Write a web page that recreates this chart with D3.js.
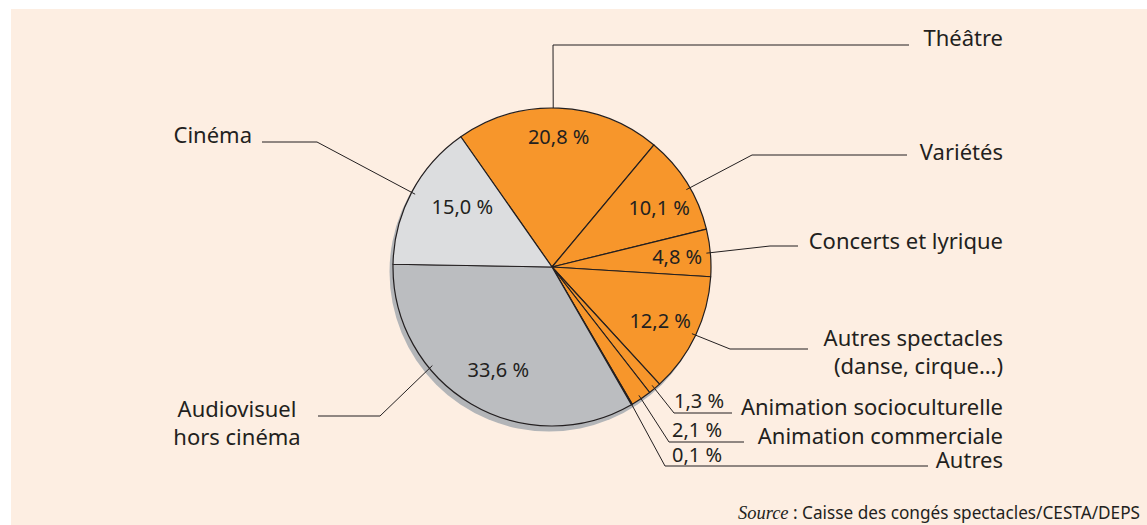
<!DOCTYPE html>
<html>
<head>
<meta charset="utf-8">
<script src="https://cdn.jsdelivr.net/npm/d3@7"></script>
<style>
  body { margin: 0; background: #fff; }
  svg text { font-family: "Noto Sans", sans-serif; fill: #231f20; }
</style>
</head>
<body>
<svg id="chart" width="1147" height="525"></svg>
<script>
// data (share of employment, %)
var categories = ["Théâtre", "Variétés", "Concerts et lyrique", "Autres spectacles (danse, cirque…)",
                  "Animation socioculturelle", "Animation commerciale", "Autres",
                  "Audiovisuel hors cinéma", "Cinéma"];
var shares = [20.8, 10.1, 4.8, 12.2, 1.3, 2.1, 0.1, 33.6, 15.0];
var groups = ["spectacle", "spectacle", "spectacle", "spectacle", "spectacle", "spectacle", "spectacle",
              "audiovisuel", "cinema"];
var labelLines = [["Théâtre"], ["Variétés"], ["Concerts et lyrique"], ["Autres spectacles", "(danse, cirque…)"],
                  ["Animation socioculturelle"], ["Animation commerciale"], ["Autres"],
                  ["Audiovisuel", "hors cinéma"], ["Cinéma"]];
var sourceText = "Caisse des congés spectacles/CESTA/DEPS";

var svg = d3.select("svg#chart"),
    width = +svg.attr("width"),
    height = +svg.attr("height");

var cx = 552, cy = 267, radius = 159;

var color = d3.scaleOrdinal()
    .domain(["spectacle", "audiovisuel", "cinema"])
    .range(["#f7962b", "#bbbdc0", "#dcdddf"]);

var fmt = function(v) { return d3.format(".1f")(v).replace(".", ",") + " %"; };

// label placement (leader elbow, end of horizontal, text spot)
// aOff: shift of the leader start from slice mid angle, degrees
// pOff/pr: angle shift and radius factor of the % label inside the slice
var layout = [
  {aOff: -2,  elbow: [553, 45],  endX: 909, tx: 1003, ty: 46,  anchor: "end", pOff: 0.5, pr: 0.82},
  {aOff: 2,   elbow: [752, 155], endX: 907, tx: 1003, ty: 160, anchor: "end", pOff: 3,   pr: 0.77},
  {aOff: 0,   elbow: [770, 246], endX: 798, tx: 1003, ty: 249, anchor: "end", pOff: 0.5, pr: 0.79},
  {aOff: 0,   elbow: [730, 349], endX: 808, tx: 1003, ty: 346, anchor: "end", pOff: 1,   pr: 0.76},
  {aOff: 0,   elbow: [674, 413], endX: 732, tx: 1003, ty: 415, anchor: "end", pout: [674, 408]},
  {aOff: 0,   elbow: [669, 442], endX: 744, tx: 1003, ty: 444, anchor: "end", pout: [672, 437]},
  {aOff: 0,   elbow: [665, 466], endX: 928, tx: 1003, ty: 468, anchor: "end", pout: [672, 462]},
  {aOff: 20,  elbow: [380, 416], endX: 318, tx: 237,  ty: 417, anchor: "middle", pOff: -3, pr: 0.73},
  {aOff: 0,   elbow: [317, 142], endX: 262, tx: 252,  ty: 143, anchor: "end", pOff: 6,  pr: 0.68}
];

svg.append("rect")
    .attr("x", 11).attr("y", 9)
    .attr("width", width - 11).attr("height", height - 9)
    .attr("fill", "#fdeee2");

var pie = d3.pie()
    .sort(null)
    .value(function(d) { return d; })
    .startAngle(-35 * Math.PI / 180)
    .endAngle(325 * Math.PI / 180);

var arcs = pie(shares);

var arc = d3.arc().innerRadius(0).outerRadius(radius);

var g = svg.append("g").attr("transform", "translate(" + cx + "," + cy + ")");

// drop shadow
g.append("circle")
    .attr("cx", -3).attr("cy", 5)
    .attr("r", radius + 0.5)
    .attr("fill", "#b3b5b8");

g.append("g")
    .selectAll("path")
    .data(arcs)
    .enter().append("path")
    .attr("d", arc)
    .attr("fill", function(d, i) { return color(groups[i]); })
    .attr("stroke", "#231f20")
    .attr("stroke-width", 1.2)
    .attr("stroke-linejoin", "round");

function polar(a, r) {
  return [cx + r * Math.sin(a), cy - r * Math.cos(a)];
}

var deg = Math.PI / 180;
var line = d3.line();

// leader lines
svg.append("g")
    .selectAll("path")
    .data(arcs)
    .enter().append("path")
    .attr("d", function(d, i) {
      var L = layout[i];
      var a = (d.startAngle + d.endAngle) / 2 + L.aOff * deg;
      var rr = (i === 0) ? radius : radius - 4;
      return line([polar(a, rr), L.elbow, [L.endX, L.elbow[1]]]);
    })
    .attr("fill", "none")
    .attr("stroke", "#231f20")
    .attr("stroke-width", 1);

// category labels
var lab = svg.append("g")
    .selectAll("text")
    .data(arcs)
    .enter().append("text")
    .attr("x", function(d, i) { return layout[i].tx; })
    .attr("y", function(d, i) { return layout[i].ty; })
    .attr("text-anchor", function(d, i) { return layout[i].anchor; })
    .style("font-size", "22px");

lab.each(function(d, i) {
  var t = d3.select(this);
  labelLines[i].forEach(function(s, k) {
    t.append("tspan")
        .attr("x", layout[i].tx)
        .attr("dy", k === 0 ? 0 : 28)
        .text(s);
  });
});

// percentage labels
function pctPos(d, i) {
  var L = layout[i];
  if (L.pout) return L.pout;
  var p = polar((d.startAngle + d.endAngle) / 2 + L.pOff * deg, radius * L.pr);
  return [p[0], p[1] + 7];
}

svg.append("g")
    .selectAll("text")
    .data(arcs)
    .enter().append("text")
    .attr("x", function(d, i) { return pctPos(d, i)[0]; })
    .attr("y", function(d, i) { return pctPos(d, i)[1]; })
    .attr("text-anchor", function(d, i) { return layout[i].pout ? "start" : "middle"; })
    .style("font-size", "20px")
    .text(function(d) { return fmt(d.data); });

// source
var src = svg.append("text")
    .attr("x", 1140).attr("y", 519)
    .attr("text-anchor", "end")
    .style("font-size", "17.2px");
src.append("tspan")
    .style("font-family", "'Liberation Serif', serif")
    .style("font-style", "italic")
    .style("font-size", "18.5px")
    .text("Source");
src.append("tspan").text(" : " + sourceText);
</script>
</body>
</html>
